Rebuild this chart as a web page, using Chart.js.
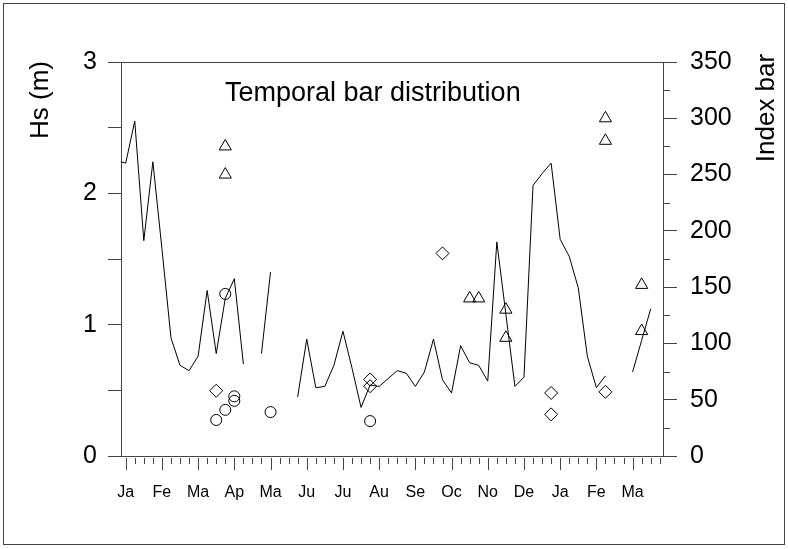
<!DOCTYPE html>
<html>
<head>
<meta charset="utf-8">
<title>Temporal bar distribution</title>
<script src="https://cdn.jsdelivr.net/npm/chart.js@4.4.1/dist/chart.umd.min.js"></script>
<style>
  html, body { margin: 0; padding: 0; background: #ffffff; }
  #wrap { position: relative; width: 788px; height: 549px; }
  #frame {
    position: absolute; left: 3px; top: 3px;
    width: 780px; height: 540px;
    border: 1px solid #444; pointer-events: none;
  }
  canvas { display: block; }
</style>
</head>
<body>
<div id="wrap">
  <canvas id="chart" width="788" height="549"></canvas>
  <div id="frame"></div>
</div>
<script>

// DATA

const monthLabels =
  ["Ja", "Fe", "Ma", "Ap", "Ma", "Ju", "Ju", "Au", "Se", "Oc", "No", "De", "Ja", "Fe", "Ma"];

// weekly Hs, time in months from the first January
const hsTime = [
  -0.125, 0, 0.25, 0.5, 0.75, 1, 1.25, 1.5, 1.75, 2, 2.25, 2.5, 2.75, 3, 3.25, 3.5, 3.75,
  4, 4.25, 4.5, 4.75, 5, 5.25, 5.5, 5.75, 6, 6.25, 6.5, 6.75, 7, 7.25, 7.5, 7.75,
  8, 8.25, 8.5, 8.75, 9, 9.25, 9.5, 9.75, 10, 10.25, 10.5, 10.75, 11, 11.25, 11.5, 11.75,
  12, 12.25, 12.5, 12.75, 13, 13.25, 13.5, 13.75, 14, 14.25, 14.5
];

const hsValues = [
  2.24, 2.23, 2.55, 1.64, 2.24, 1.58, 0.90, 0.69, 0.65, 0.76, 1.26, 0.78, 1.20, 1.35, 0.70, null, 0.78,
  1.40, null, null, 0.45, 0.89, 0.52, 0.53, 0.69, 0.95, 0.67, 0.37, 0.54, 0.53, 0.59, 0.65, 0.63,
  0.53, 0.64, 0.89, 0.58, 0.48, 0.84, 0.71, 0.69, 0.57, 1.63, 1.08, 0.53, 0.60, 2.06, 2.15, 2.23,
  1.65, 1.52, 1.28, 0.76, 0.52, 0.61, null, null, 0.64, 0.88, 1.12
];

const triangleTime  = [2.75, 2.75, 9.5, 9.75, 10.5, 10.5, 13.25, 13.25, 14.25, 14.25];
const triangleIndex = [275, 250, 140, 140, 130, 105, 300, 280, 152, 111];

const circleTime  = [2.5, 2.75, 2.75, 3, 3, 4, 6.75];
const circleIndex = [32, 41, 144, 53, 49, 39, 31];

const diamondTime  = [2.5, 6.75, 6.75, 8.75, 11.75, 11.75, 13.25];
const diamondIndex = [58, 68, 62, 180, 56, 37, 57];



// STYLE

const axisColor = "#444444";
const fontFamily = "'Liberation Sans', Arial, sans-serif";

Chart.defaults.font.family = fontFamily;
Chart.defaults.color = "#000000";

function toPoints(xs, ys) {
  return xs.map((x, i) => ({ x: x, y: ys[i] }));
}



// EXTRA TICKS, FRAME AND TEXTS

const decorations = {

  id: "decorations",

  afterDraw(chart) {

    const ctx = chart.ctx;
    const area = chart.chartArea;
    const xScale = chart.scales.x;
    const rScale = chart.scales.y2;

    ctx.save();

    ctx.strokeStyle = axisColor;
    ctx.lineWidth = 1;
    ctx.beginPath();

    // top of the box
    ctx.moveTo(area.left, Math.round(area.top) + 0.5);
    ctx.lineTo(area.right, Math.round(area.top) + 0.5);

    // weekly ticks, longer on each month
    for (let v = Math.ceil(xScale.min * 4) / 4; v <= xScale.max; v += 0.25) {
      const px = Math.round(xScale.getPixelForValue(v)) + 0.5;
      const len = Number.isInteger(v) ? 12 : 6;
      ctx.moveTo(px, area.bottom + 2);
      ctx.lineTo(px, area.bottom + 2 + len);
    }

    // minor ticks on the index axis
    for (let v = 25; v < rScale.max; v += 50) {
      const py = Math.round(rScale.getPixelForValue(v)) + 0.5;
      ctx.moveTo(area.right, py);
      ctx.lineTo(area.right + 7, py);
    }

    ctx.stroke();

    ctx.fillStyle = "#000000";

    // inner title
    ctx.font = "27px " + fontFamily;
    ctx.textAlign = "left";
    ctx.textBaseline = "alphabetic";
    ctx.fillText("Temporal bar distribution", area.left + 104, area.top + 39);

    // axis titles, both read upwards
    ctx.font = "26px " + fontFamily;
    ctx.textAlign = "center";
    ctx.textBaseline = "middle";

    ctx.save();
    ctx.translate(41, area.top + 38);
    ctx.rotate(-Math.PI / 2);
    ctx.fillText("Hs (m)", 0, 0);
    ctx.restore();

    ctx.save();
    ctx.translate(767, area.top + 46);
    ctx.rotate(-Math.PI / 2);
    ctx.fillText("Index bar", 0, 0);
    ctx.restore();

    ctx.restore();

  }

};



// CHART

new Chart(document.getElementById("chart"), {

  type: "line",

  data: {

    datasets: [

      {
        label: "Hs",
        data: toPoints(hsTime, hsValues),
        yAxisID: "y",
        borderColor: "#000000",
        borderWidth: 1,
        pointRadius: 0,
        tension: 0,
        spanGaps: false,
        fill: false
      },

      {
        label: "Triangles",
        data: toPoints(triangleTime, triangleIndex),
        yAxisID: "y2",
        showLine: false,
        pointStyle: "triangle",
        pointRadius: 7,
        pointBorderWidth: 1,
        pointBorderColor: "#000000",
        pointBackgroundColor: "rgba(0,0,0,0)"
      },

      {
        label: "Circles",
        data: toPoints(circleTime, circleIndex),
        yAxisID: "y2",
        showLine: false,
        pointStyle: "circle",
        pointRadius: 5.5,
        pointBorderWidth: 1,
        pointBorderColor: "#000000",
        pointBackgroundColor: "rgba(0,0,0,0)"
      },

      {
        label: "Diamonds",
        data: toPoints(diamondTime, diamondIndex),
        yAxisID: "y2",
        showLine: false,
        pointStyle: "rectRot",
        pointRadius: 6.5,
        pointBorderWidth: 1,
        pointBorderColor: "#000000",
        pointBackgroundColor: "rgba(0,0,0,0)"
      }

    ]

  },

  options: {

    responsive: false,
    animation: false,
    devicePixelRatio: 1,

    layout: {
      padding: { top: 62, left: 0, right: 0, bottom: 0 }
    },

    plugins: {
      legend: { display: false },
      tooltip: { enabled: false }
    },

    scales: {

      x: {
        type: "linear",
        position: "bottom",
        min: -0.13,
        max: 14.84,
        afterBuildTicks: scale => {
          scale.ticks = monthLabels.map((label, i) => ({ value: i }));
        },
        afterFit: scale => { scale.height = 93; },
        ticks: {
          autoSkip: false,
          maxRotation: 0,
          padding: 19,
          font: { size: 16 },
          callback: value => monthLabels[Math.round(value)]
        },
        grid: { display: false },
        border: { color: axisColor, width: 1 }
      },

      y: {
        position: "left",
        min: 0,
        max: 3,
        afterFit: scale => { scale.width = 121; },
        ticks: {
          stepSize: 0.5,
          padding: 11,
          font: { size: 25 },
          callback: value => (Number.isInteger(value) ? value : "")
        },
        grid: {
          drawOnChartArea: false,
          tickLength: 13,
          tickColor: axisColor
        },
        border: { color: axisColor, width: 1 }
      },

      y2: {
        position: "right",
        min: 0,
        max: 350,
        afterFit: scale => { scale.width = 125; },
        ticks: {
          stepSize: 50,
          padding: 13,
          font: { size: 25 }
        },
        grid: {
          drawOnChartArea: false,
          tickLength: 14,
          tickColor: axisColor
        },
        border: { color: axisColor, width: 1 }
      }

    }

  },

  plugins: [decorations]

});

</script>
</body>
</html>
